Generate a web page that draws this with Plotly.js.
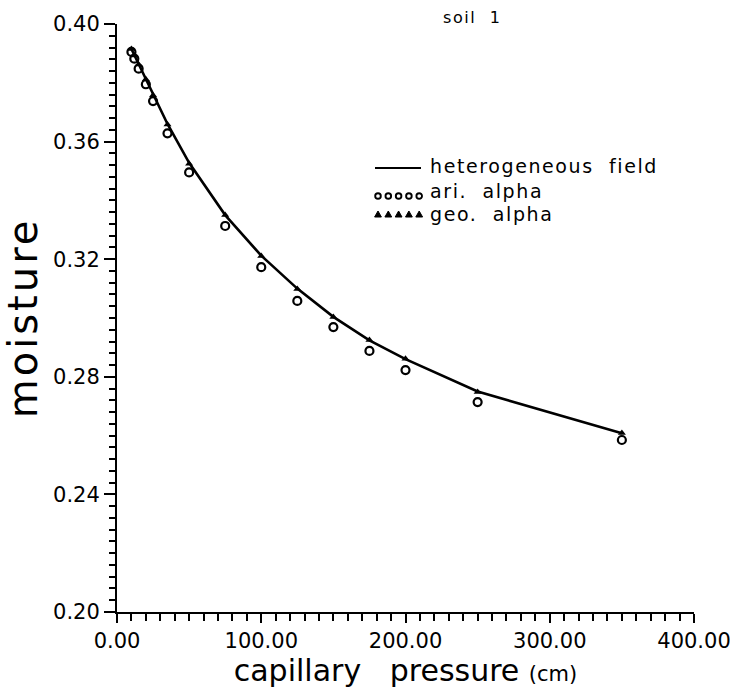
<!DOCTYPE html>
<html>
<head>
<meta charset="utf-8">
<script src="https://cdn.plot.ly/plotly-3.0.1.min.js"></script>
<style>
html,body{margin:0;padding:0;background:#fff;}
#chart{width:730px;height:688px;}
#chart .ytitle{letter-spacing:3px;}
#chart .annotation-text{letter-spacing:1.6px;}
</style>
</head>
<body>
<div id="chart"></div>
<script>
// capillary pressure (cm)
const pressure = [10, 12, 15, 20, 25, 35, 50, 75, 100, 125, 150, 175, 200, 250, 350];
// heterogeneous field (line)
const hetField = [0.3915, 0.3895, 0.3865, 0.3815, 0.3762, 0.3660, 0.3528, 0.3350, 0.3212, 0.3100, 0.3004, 0.2924, 0.2860, 0.2750, 0.2608];
// ari. alpha (open circles)
const ariAlpha = [0.3905, 0.3882, 0.3848, 0.3795, 0.3738, 0.3628, 0.3495, 0.3313, 0.3173, 0.3058, 0.2969, 0.2888, 0.2823, 0.2714, 0.2585];
// geo. alpha (filled triangles)
const geoAlpha = [0.3915, 0.3893, 0.3862, 0.3812, 0.3758, 0.3658, 0.3525, 0.3350, 0.3211, 0.3099, 0.3003, 0.2925, 0.2861, 0.2748, 0.2609];

const legendLabels = ["heterogeneous  field", "ari.  alpha", "geo.  alpha"];

const F = "DejaVu Sans, Liberation Sans, sans-serif";
const W = 730, H = 688, ML = 117, MR = 36, MT = 24, MB = 76;
const PW = W - ML - MR, PH = H - MT - MB;
const px = v => (v - ML) / PW;
const py = v => (H - MB - v) / PH;

const traces = [
  {x: pressure, y: hetField, mode: 'lines', line: {color: '#000', width: 2.6}, showlegend: false},
  {x: pressure, y: ariAlpha, mode: 'markers', marker: {symbol: 'circle-open', size: 8, color: '#000', line: {width: 2.2, color: '#000'}}, showlegend: false},
  {x: pressure, y: geoAlpha, mode: 'markers', marker: {symbol: 'triangle-up', size: 7, color: '#000'}, showlegend: false}
];

// legend sample glyphs (drawn as paper shapes)
const shapes = [
  {type: 'line', xref: 'paper', yref: 'paper', x0: px(375), x1: px(421), y0: py(168), y1: py(168), line: {color: '#000', width: 2.2}}
];
for (let i = 0; i < 5; i++) {
  const cx = 378 + i * 10.3;
  shapes.push({type: 'circle', xref: 'paper', yref: 'paper', x0: px(cx - 2.8), x1: px(cx + 2.8), y0: py(196 + 2.8), y1: py(196 - 2.8), line: {color: '#000', width: 1.9}});
  shapes.push({type: 'path', xref: 'paper', yref: 'paper',
    path: `M ${px(cx - 3.4)} ${py(217)} L ${px(cx + 3.4)} ${py(217)} L ${px(cx)} ${py(211)} Z`,
    fillcolor: '#000', line: {color: '#000', width: 1}});
}

const ann = (x, y, text, size) => ({xref: 'paper', yref: 'paper', x: px(x), y: py(y), xanchor: 'left', yanchor: 'middle', align: 'left', text: text, showarrow: false, font: {family: F, size: size, color: '#000'}});

const layout = {
  width: W, height: H,
  margin: {l: ML, r: MR, t: MT, b: MB},
  paper_bgcolor: '#fff', plot_bgcolor: '#fff',
  font: {family: F, color: '#000'},
  shapes: shapes,
  xaxis: {
    range: [0, 400], tickmode: 'linear', tick0: 0, dtick: 100, tickformat: '.2f', ticklabeloverflow: 'allow',
    showgrid: false, zeroline: false, showline: true, linecolor: '#000', linewidth: 2,
    ticks: 'outside', ticklen: 9, tickwidth: 2, tickcolor: '#000',
    minor: {ticks: 'outside', dtick: 10, ticklen: 7, tickwidth: 2, tickcolor: '#000', showgrid: false},
    tickfont: {family: F, size: 21, color: '#000'},
    title: {text: 'capillary   pressure <span style="font-size:21px">(cm)</span>', font: {family: F, size: 30, color: '#000'}, standoff: 9}
  },
  yaxis: {
    range: [0.20, 0.40], tickmode: 'linear', tick0: 0.20, dtick: 0.04, tickformat: '.2f',
    showgrid: false, zeroline: false, showline: true, linecolor: '#000', linewidth: 2,
    ticks: 'outside', ticklen: 11, tickwidth: 2, tickcolor: '#000',
    minor: {ticks: 'outside', dtick: 0.004, ticklen: 6, tickwidth: 2, tickcolor: '#000', showgrid: false},
    tickfont: {family: F, size: 21, color: '#000'},
    title: {text: 'moisture', font: {family: F, size: 40, color: '#000'}, standoff: 6}
  },
  annotations: [
    ann(441, 17, 'soil  1', 16),
    ann(428, 166, legendLabels[0], 19),
    ann(428, 191, legendLabels[1], 19),
    ann(428, 214, legendLabels[2], 19)
  ]
};

Plotly.newPlot('chart', traces, layout, {displayModeBar: false, staticPlot: true});
</script>
</body>
</html>
